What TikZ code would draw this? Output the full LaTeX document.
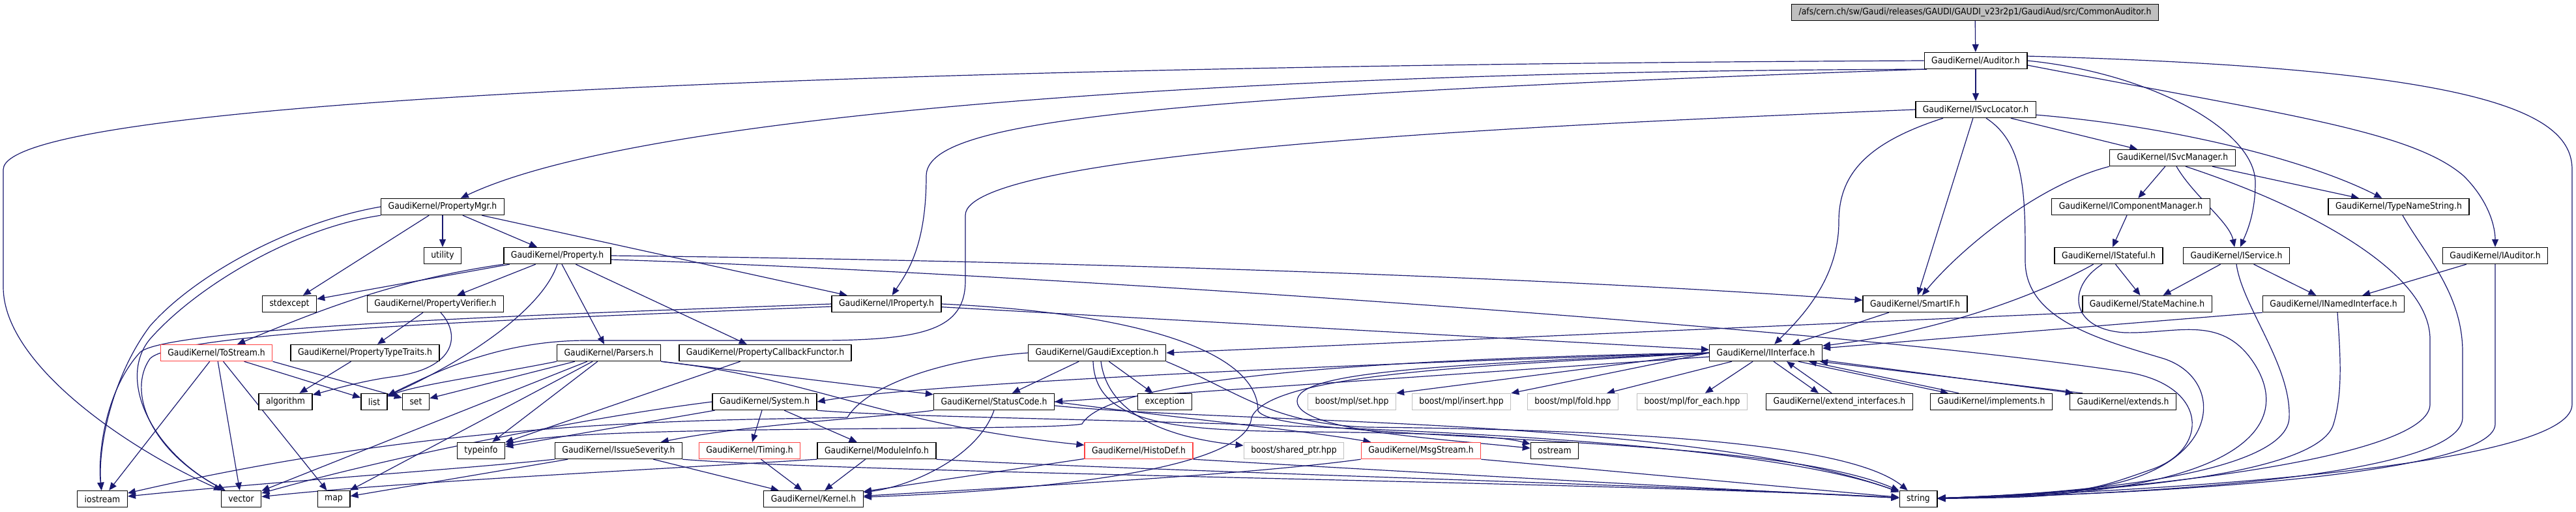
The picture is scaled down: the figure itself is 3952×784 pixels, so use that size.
\documentclass[tikz,border=0pt]{standalone}
\usepackage{fontspec}
\setmainfont{DejaVu Sans}[FakeStretch=0.9]
\usetikzlibrary{arrows.meta}
\definecolor{edgeblue}{HTML}{191970}
\definecolor{truncred}{HTML}{FF4040}
\definecolor{extgray}{HTML}{BFBFBF}
\pgfdeclarelayer{bg}
\pgfsetlayers{bg,main}

\begin{document}
\begin{tikzpicture}[x=0.5pt,y=-0.5pt,
    inc_file/.style={
        draw=black, line width=0.7pt, fill=white, inner xsep=5.5pt, inner ysep=0pt,
        minimum height=12.5pt, font=\fontsize{6.9}{8}\selectfont
    },
    root_file/.style={
        inc_file, fill=extgray
    },
    trunc_file/.style={
        inc_file, draw=truncred
    },
    ext_file/.style={
        inc_file, draw=extgray
    },
    inc_edge/.style={
        draw=edgeblue, line width=0.6pt, -{Triangle[length=6pt,width=5pt]}
    }
]
    \useasboundingbox (0,0) rectangle (3952,784);

    \node[root_file] (root) at (3030,19) {/afs/cern.ch/sw/Gaudi/releases/GAUDI/GAUDI\_v23r2p1/GaudiAud/src/CommonAuditor.h};
    \node[inc_file] (aud) at (3031,93) {GaudiKernel/Auditor.h};
    \node[inc_file] (svcloc) at (3031,168) {GaudiKernel/ISvcLocator.h};
    \node[inc_file] (svcmgr) at (3333,242) {GaudiKernel/ISvcManager.h};

    \node[inc_file] (propmgr) at (679,317) {GaudiKernel/PropertyMgr.h};
    \node[inc_file] (compmgr) at (3269,317) {GaudiKernel/IComponentManager.h};
    \node[inc_file] (tns) at (3680,317) {GaudiKernel/TypeNameString.h};

    \node[inc_file] (utility) at (679,392) {utility};
    \node[inc_file] (prop) at (855,392) {GaudiKernel/Property.h};
    \node[inc_file] (stateful) at (3235,392) {GaudiKernel/IStateful.h};
    \node[inc_file] (service) at (3431,392) {GaudiKernel/IService.h};
    \node[inc_file] (iaud) at (3828,392) {GaudiKernel/IAuditor.h};

    \node[inc_file] (stdexcept) at (444,466) {stdexcept};
    \node[inc_file] (propver) at (668,466) {GaudiKernel/PropertyVerifier.h};
    \node[inc_file] (iprop) at (1360,466) {GaudiKernel/IProperty.h};
    \node[inc_file] (smartif) at (2938,466) {GaudiKernel/SmartIF.h};
    \node[inc_file] (statem) at (3294,466) {GaudiKernel/StateMachine.h};
    \node[inc_file] (named) at (3580,466) {GaudiKernel/INamedInterface.h};

    \node[trunc_file] (tostream) at (332,541) {GaudiKernel/ToStream.h};
    \node[inc_file] (traits) at (560,541) {GaudiKernel/PropertyTypeTraits.h};
    \node[inc_file] (parsers) at (934,541) {GaudiKernel/Parsers.h};
    \node[inc_file] (callback) at (1174,541) {GaudiKernel/PropertyCallbackFunctor.h};
    \node[inc_file] (gexc) at (1683,541) {GaudiKernel/GaudiException.h};
    \node[inc_file] (iface) at (2709,541) {GaudiKernel/IInterface.h};

    \node[inc_file] (algorithm) at (438,616) {algorithm};
    \node[inc_file] (list) at (574,616) {list};
    \node[inc_file] (set) at (638,616) {set};
    \node[inc_file] (system) at (1173,616) {GaudiKernel/System.h};
    \node[inc_file] (status) at (1525,616) {GaudiKernel/StatusCode.h};
    \node[inc_file] (exception) at (1787,616) {exception};
    \node[ext_file] (mplset) at (2074,616) {boost/mpl/set.hpp};
    \node[ext_file] (mplinsert) at (2242,616) {boost/mpl/insert.hpp};
    \node[ext_file] (mplfold) at (2413,616) {boost/mpl/fold.hpp};
    \node[ext_file] (mplforeach) at (2596,616) {boost/mpl/for\_each.hpp};
    \node[inc_file] (extif) at (2822,616) {GaudiKernel/extend\_interfaces.h};
    \node[inc_file] (implements) at (3055,616) {GaudiKernel/implements.h};
    \node[inc_file] (extends) at (3257,616) {GaudiKernel/extends.h};

    \node[inc_file] (typeinfo) at (738,691) {typeinfo};
    \node[inc_file] (severity) at (949,691) {GaudiKernel/IssueSeverity.h};
    \node[trunc_file] (timing) at (1150,691) {GaudiKernel/Timing.h};
    \node[inc_file] (module) at (1345,691) {GaudiKernel/ModuleInfo.h};
    \node[trunc_file] (histo) at (1747,691) {GaudiKernel/HistoDef.h};
    \node[ext_file] (sharedptr) at (1985,691) {boost/shared\_ptr.hpp};
    \node[trunc_file] (msgstream) at (2180,691) {GaudiKernel/MsgStream.h};
    \node[inc_file] (ostream) at (2385,691) {ostream};

    \node[inc_file] (iostream) at (157,765) {iostream};
    \node[inc_file] (vector) at (370,765) {vector};
    \node[inc_file] (map) at (512,765) {map};
    \node[inc_file] (kernel) at (1248,765) {GaudiKernel/Kernel.h};
    \node[inc_file] (string) at (2943,765) {string};

    \begin{pgfonlayer}{bg}
    \draw[inc_edge] (root) -- (aud);
    \draw[inc_edge] (aud) -- (svcloc);
    \draw[inc_edge] (aud.west) .. controls (1400,100) and (5,150) .. (5,260) -- (5,440) .. controls (5,560) and (200,690) .. (vector);
    \draw[inc_edge] (aud.190) .. controls (2000,108) and (1000,165) .. (propmgr);
    \draw[inc_edge] (aud.south west) .. controls (1700,150) and (1421,190) .. (1421,270) .. controls (1421,380) and (1390,420) .. (iprop);
    \draw[inc_edge] (aud.5) .. controls (3800,105) and (3946,170) .. (3946,260) -- (3946,620) .. controls (3946,700) and (3500,745) .. (string);
    \draw[inc_edge] (aud.east) .. controls (3300,112) and (3460,200) .. (3460,280) .. controls (3460,330) and (3445,360) .. (service);
    \draw[inc_edge] (aud.-5) .. controls (3500,175) and (3700,200) .. (3780,270) .. controls (3820,310) and (3828,350) .. (iaud);

    \draw[inc_edge] (svcloc) -- (svcmgr);
    \draw[inc_edge] (svcloc) -- (smartif);
    \draw[inc_edge] ([xshift=-25pt]svcloc.south) .. controls (2860,220) and (2821,270) .. (2821,340) .. controls (2821,430) and (2760,490) .. (iface);
    \draw[inc_edge] ([xshift=8pt]svcloc.south) .. controls (3107,220) and (3107,300) .. (3107,400) .. controls (3107,490) and (3220,520) .. (3320,550) .. controls (3410,580) and (3410,700) .. (3250,740) .. controls (3150,762) .. (string);
    \draw[inc_edge] (svcloc.-5) .. controls (3350,195) and (3550,250) .. (tns);
    \draw[inc_edge] (svcloc.west) .. controls (2400,190) and (1481,230) .. (1481,330) -- (1481,430) .. controls (1481,505) and (1420,522) .. (1250,522) -- (900,522) .. controls (760,522) and (660,575) .. (list);

    \draw[inc_edge] (svcmgr) -- (compmgr);
    \draw[inc_edge] (svcmgr) -- (tns);
    \draw[inc_edge] ([xshift=3pt]svcmgr.south) .. controls (3365,300) and (3420,340) .. (service);
    \draw[inc_edge] (svcmgr.south west) .. controls (3120,285) and (3000,390) .. (smartif);
    \draw[inc_edge] ([xshift=10pt]svcmgr.south) .. controls (3550,320) and (3728,420) .. (3728,520) -- (3728,620) .. controls (3728,700) and (3300,752) .. (string);

    \draw[inc_edge] (compmgr) -- (stateful);
    \draw[inc_edge] (stateful) -- (statem);
    \draw[inc_edge] (stateful) .. controls (3150,440) and (3000,505) .. (iface);
    \draw[inc_edge] ([xshift=-5pt]stateful.south) .. controls (3170,440) and (3175,505) .. (3260,510) .. controls (3340,512) and (3410,480) .. (3460,560) .. controls (3515,650) and (3440,735) .. (3150,758) -- (string);
    \draw[inc_edge] (service) -- (statem);
    \draw[inc_edge] (service) -- (named);
    \draw[inc_edge] (service.south) .. controls (3440,470) and (3515,560) .. (3512,640) .. controls (3510,710) and (3300,752) .. (string);
    \draw[inc_edge] (iaud) -- (named);
    \draw[inc_edge] (iaud.south) -- (3828,650) .. controls (3828,720) and (3400,755) .. (string);
    \draw[inc_edge] ([xshift=3pt]tns.south) .. controls (3720,390) and (3778,450) .. (3778,540) -- (3778,640) .. controls (3778,720) and (3400,755) .. (string);
    \draw[inc_edge] ([xshift=3pt]named.south) .. controls (3590,540) and (3595,600) .. (3580,650) .. controls (3560,720) and (3300,752) .. (string);
    \draw[inc_edge] (named.south west) -- (iface);
    \draw[inc_edge] (statem.south west) -- (gexc.east);
    \draw[inc_edge] (smartif) -- (iface);

    \draw[inc_edge] (propmgr) -- (utility);
    \draw[inc_edge] (propmgr) -- (prop);
    \draw[inc_edge] (propmgr) -- (stdexcept);
    \draw[inc_edge] (propmgr) -- (iprop);
    \draw[inc_edge] (propmgr.west) .. controls (450,340) and (300,420) .. (230,500) .. controls (170,580) and (150,690) .. (iostream);
    \draw[inc_edge] (propmgr.south west) .. controls (450,350) and (300,440) .. (230,520) .. controls (180,580) and (230,690) .. (vector);

    \draw[inc_edge] (prop) -- (stdexcept);
    \draw[inc_edge] (prop.south west) .. controls (600,430) and (480,480) .. (tostream);
    \draw[inc_edge] (prop) -- (propver);
    \draw[inc_edge] (prop) -- (parsers);
    \draw[inc_edge] (prop) -- (callback);
    \draw[inc_edge] (prop.south) .. controls (830,480) and (700,560) .. (list);
    \draw[inc_edge] (prop.east) .. controls (1500,398) and (2300,420) .. (smartif);
    \draw[inc_edge] ([yshift=-3pt]prop.east) .. controls (1500,415) and (2800,500) .. (3260,570) .. controls (3390,590) and (3390,690) .. (3300,720) .. controls (3200,755) .. (string);

    \draw[inc_edge] (propver) -- (traits);
    \draw[inc_edge] ([xshift=4pt]propver.south) .. controls (705,510) and (705,565) .. (600,578) .. controls (550,585) and (500,600) .. (algorithm);
    \draw[inc_edge] (traits) -- (algorithm);

    \draw[inc_edge] (tostream) -- (iostream);
    \draw[inc_edge] (tostream) -- (vector);
    \draw[inc_edge] (tostream) -- (map);
    \draw[inc_edge] (tostream) -- (list);
    \draw[inc_edge] (tostream.south east) -- (set);

    \draw[inc_edge] (iprop) -- (iface);
    \draw[inc_edge] (iprop.west) .. controls (900,480) and (260,500) .. (215,540) .. controls (160,600) and (150,700) .. (iostream);
    \draw[inc_edge] ([yshift=-2pt]iprop.west) .. controls (900,486) and (270,505) .. (230,550) .. controls (195,600) and (230,690) .. (vector);
    \draw[inc_edge] (iprop.east) .. controls (1750,480) and (1930,540) .. (1930,630) .. controls (1960,680) and (2700,660) .. (string);

    \draw[inc_edge] (parsers) -- (set);
    \draw[inc_edge] (parsers.south west) .. controls (750,575) and (640,590) .. (list);
    \draw[inc_edge] (parsers) -- (typeinfo);
    \draw[inc_edge] (parsers) -- (vector);
    \draw[inc_edge] (parsers) -- (map);
    \draw[inc_edge] (parsers.south east) -- (status);
    \draw[inc_edge] (parsers.south east) .. controls (1250,580) and (1350,650) .. (histo);
    \draw[inc_edge] (callback) -- (typeinfo);

    \draw[inc_edge] (gexc) -- (status);
    \draw[inc_edge] (gexc) -- (exception);
    \draw[inc_edge] (gexc.west) .. controls (1450,550) and (1330,590) .. (1300,640) .. controls (1100,645) and (700,640) .. (iostream);
    \draw[inc_edge] (gexc.south east) .. controls (1900,600) and (1950,650) .. (2100,655) .. controls (2600,660) and (2850,690) .. (string);
    \draw[inc_edge] ([xshift=3pt]gexc.south) .. controls (1700,640) and (1800,672) .. (sharedptr);
    \draw[inc_edge] ([xshift=-3pt]gexc.south) .. controls (1680,650) and (1800,660) .. (2000,662) .. controls (2200,664) and (2300,668) .. (ostream);

    \draw[inc_edge] (system) -- (timing);
    \draw[inc_edge] (system) -- (module);
    \draw[inc_edge] (system) -- (typeinfo);
    \draw[inc_edge] (system.west) .. controls (900,640) and (600,700) .. (vector);
    \draw[inc_edge] (system.south east) .. controls (1500,650) and (2600,640) .. (string);

    \draw[inc_edge] (status.south) .. controls (1500,700) and (1400,745) .. (kernel);
    \draw[inc_edge] (status.south west) .. controls (1350,640) and (1150,650) .. (severity);
    \draw[inc_edge] (status.east) .. controls (1800,640) and (2000,660) .. (msgstream);
    \draw[inc_edge] ([yshift=-3pt]status.east) .. controls (1900,650) and (2600,640) .. (string);

    \draw[inc_edge] (severity) -- (kernel);
    \draw[inc_edge] (severity) -- (map);
    \draw[inc_edge] (severity.south west) .. controls (700,720) and (400,740) .. (iostream);
    \draw[inc_edge] (severity.south east) .. controls (1300,725) and (2500,740) .. (string);
    \draw[inc_edge] (timing) -- (kernel);
    \draw[inc_edge] (module) -- (kernel);
    \draw[inc_edge] (module.south west) .. controls (1000,720) and (600,740) .. (vector);
    \draw[inc_edge] (module.south east) .. controls (1700,720) and (2600,745) .. (string);
    \draw[inc_edge] (histo) -- (kernel);
    \draw[inc_edge] (histo.south east) .. controls (2100,720) and (2600,748) .. (string);
    \draw[inc_edge] (msgstream.south east) -- (string);
    \draw[inc_edge] (msgstream.south west) .. controls (1900,730) and (1500,750) .. (kernel);

    \draw[inc_edge] (iface.west) -- (mplset.north east);
    \draw[inc_edge] (iface.west) -- (mplinsert.north east);
    \draw[inc_edge] (iface) -- (mplfold);
    \draw[inc_edge] (iface) -- (mplforeach);
    \draw[inc_edge] ([xshift=6pt]iface.south) -- ([xshift=-16pt]extif.north);
    \draw[inc_edge] ([xshift=-6pt]extif.north) -- ([xshift=16pt]iface.south);
    \draw[inc_edge] ([xshift=25pt]iface.south) -- ([xshift=-33pt]implements.north);
    \draw[inc_edge] ([xshift=-25pt]implements.north) -- ([xshift=33pt]iface.south);
    \draw[inc_edge] ([yshift=1pt]iface.south east) -- ([xshift=3pt]extends.north west);
    \draw[inc_edge] ([xshift=10pt]extends.north west) -- ([xshift=-2pt]iface.south east);
    \draw[inc_edge] (iface.west) .. controls (2000,560) and (1400,590) .. (system.east);
    \draw[inc_edge] ([yshift=-3pt]iface.west) -- (status.east);
    \draw[inc_edge] (iface.west) .. controls (2300,560) and (1950,570) .. (1920,640) .. controls (1915,720) and (1600,752) .. (kernel);
    \draw[inc_edge] (iface.west) .. controls (2100,550) and (1700,580) .. (1660,650) .. controls (1600,662) and (900,650) .. (typeinfo);
    \draw[inc_edge] (iface.west) .. controls (2200,560) and (1990,570) .. (1990,615) .. controls (1990,660) and (2200,672) .. (ostream);
    \end{pgfonlayer}
\end{tikzpicture}
\end{document}
